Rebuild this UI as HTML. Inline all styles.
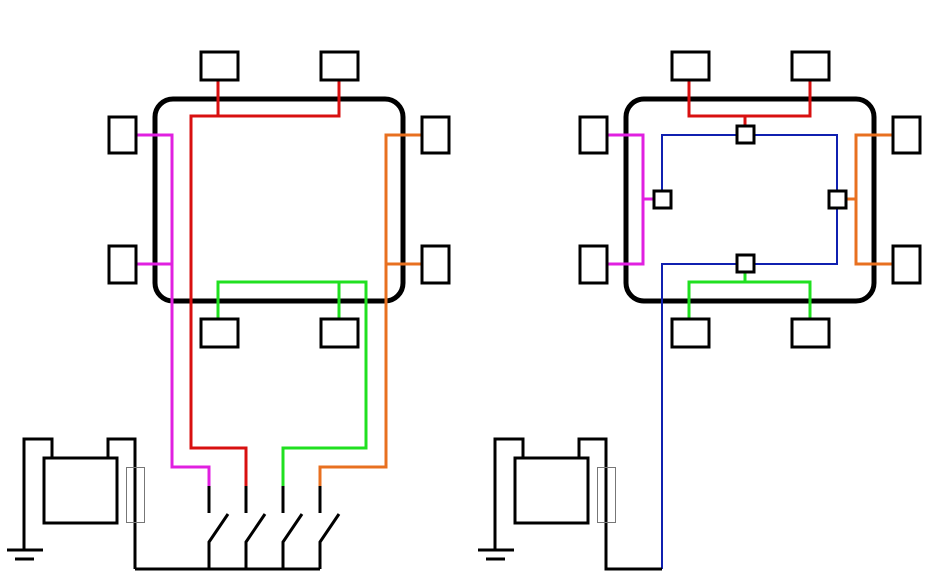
<!DOCTYPE html>
<html><head><meta charset="utf-8"><style>html,body{margin:0;padding:0;background:#fff}svg{display:block}</style></head>
<body>
<svg width="941" height="587" viewBox="0 0 941 587" xmlns="http://www.w3.org/2000/svg" fill="none" stroke-linecap="butt" stroke-linejoin="miter">
<!-- LEFT DIAGRAM -->
<rect x="155" y="99" width="248" height="202" rx="18" stroke="#000" stroke-width="5"/>
<g stroke-width="3">
<polyline points="218,80 218,116" stroke="#d81010"/>
<polyline points="339,80 339,116 191,116 191,448 246,448 246,486" stroke="#d81010"/>
<polyline points="136,135 172,135 172,467 209,467 209,486" stroke="#e020e0"/>
<polyline points="136,264 172,264" stroke="#e020e0"/>
<polyline points="422,135 386,135 386,467 320,467 320,486" stroke="#e87020"/>
<polyline points="422,264 386,264" stroke="#e87020"/>
<polyline points="218,319 218,282 366,282 366,448 283,448 283,486" stroke="#20e020"/>
<polyline points="339,282 339,319" stroke="#20e020"/>
</g>
<g stroke="#000" stroke-width="3">
<rect x="201" y="52" width="37" height="28"/>
<rect x="321" y="52" width="37" height="28"/>
<rect x="109" y="117" width="27" height="36"/>
<rect x="109" y="246" width="27" height="37"/>
<rect x="422" y="117" width="27" height="36"/>
<rect x="422" y="246" width="27" height="37"/>
<rect x="201" y="319" width="37" height="28"/>
<rect x="321" y="319" width="37" height="28"/>
<line x1="209" y1="486" x2="209" y2="513"/>
<line x1="246" y1="486" x2="246" y2="513"/>
<line x1="283" y1="486" x2="283" y2="513"/>
<line x1="320" y1="486" x2="320" y2="513"/>
<polyline points="228,514 209,542 209,569"/>
<polyline points="265,514 246,542 246,569"/>
<polyline points="302,514 283,542 283,569"/>
<polyline points="339,514 320,542 320,569"/>
<polyline points="135,569 320,569"/>
<polyline points="108,458 108,439 135,439 135,569"/>
<polyline points="52,458 52,439 24,439 24,550"/>
<line x1="7" y1="550" x2="43" y2="550"/>
<line x1="15" y1="559" x2="34" y2="559"/>
<rect x="44" y="458" width="73" height="65"/>
</g>
<rect x="126.5" y="467.5" width="18" height="55" stroke="#777" stroke-width="1"/>

<!-- RIGHT DIAGRAM -->
<rect x="626" y="99" width="248" height="202" rx="18" stroke="#000" stroke-width="5"/>
<g stroke-width="3">
<polyline points="689,80 689,116 810,116 810,80" stroke="#d81010"/>
<line x1="745" y1="116" x2="745" y2="125" stroke="#d81010"/>
<polyline points="607,135 643,135 643,264 607,264" stroke="#e020e0"/>
<line x1="643" y1="199" x2="653" y2="199" stroke="#e020e0"/>
<polyline points="893,135 856,135 856,264 893,264" stroke="#e87020"/>
<line x1="847" y1="199" x2="856" y2="199" stroke="#e87020"/>
<polyline points="689,319 689,282 810,282 810,319" stroke="#20e020"/>
<line x1="745" y1="273" x2="745" y2="282" stroke="#20e020"/>
</g>
<g stroke="#1020b0" stroke-width="2">
<polyline points="662,190 662,135 837,135 837,190"/>
<polyline points="837,209 837,264 662,264 662,569"/>
</g>
<g stroke="#000" stroke-width="3">
<rect x="672" y="52" width="37" height="28"/>
<rect x="792" y="52" width="37" height="28"/>
<rect x="580" y="117" width="27" height="36"/>
<rect x="580" y="246" width="27" height="37"/>
<rect x="893" y="117" width="27" height="36"/>
<rect x="893" y="246" width="27" height="37"/>
<rect x="672" y="319" width="37" height="28"/>
<rect x="792" y="319" width="37" height="28"/>
<rect x="737" y="126" width="17" height="17" fill="#fff"/>
<rect x="654" y="191" width="17" height="17" fill="#fff"/>
<rect x="829" y="191" width="17" height="17" fill="#fff"/>
<rect x="737" y="255" width="17" height="17" fill="#fff"/>
<polyline points="579,458 579,439 606,439 606,569 662,569"/>
<polyline points="523,458 523,439 495,439 495,550"/>
<line x1="478" y1="550" x2="514" y2="550"/>
<line x1="486" y1="559" x2="505" y2="559"/>
<rect x="515" y="458" width="73" height="65"/>
</g>
<rect x="597.5" y="467.5" width="18" height="55" stroke="#777" stroke-width="1"/>
</svg>
</body></html>
